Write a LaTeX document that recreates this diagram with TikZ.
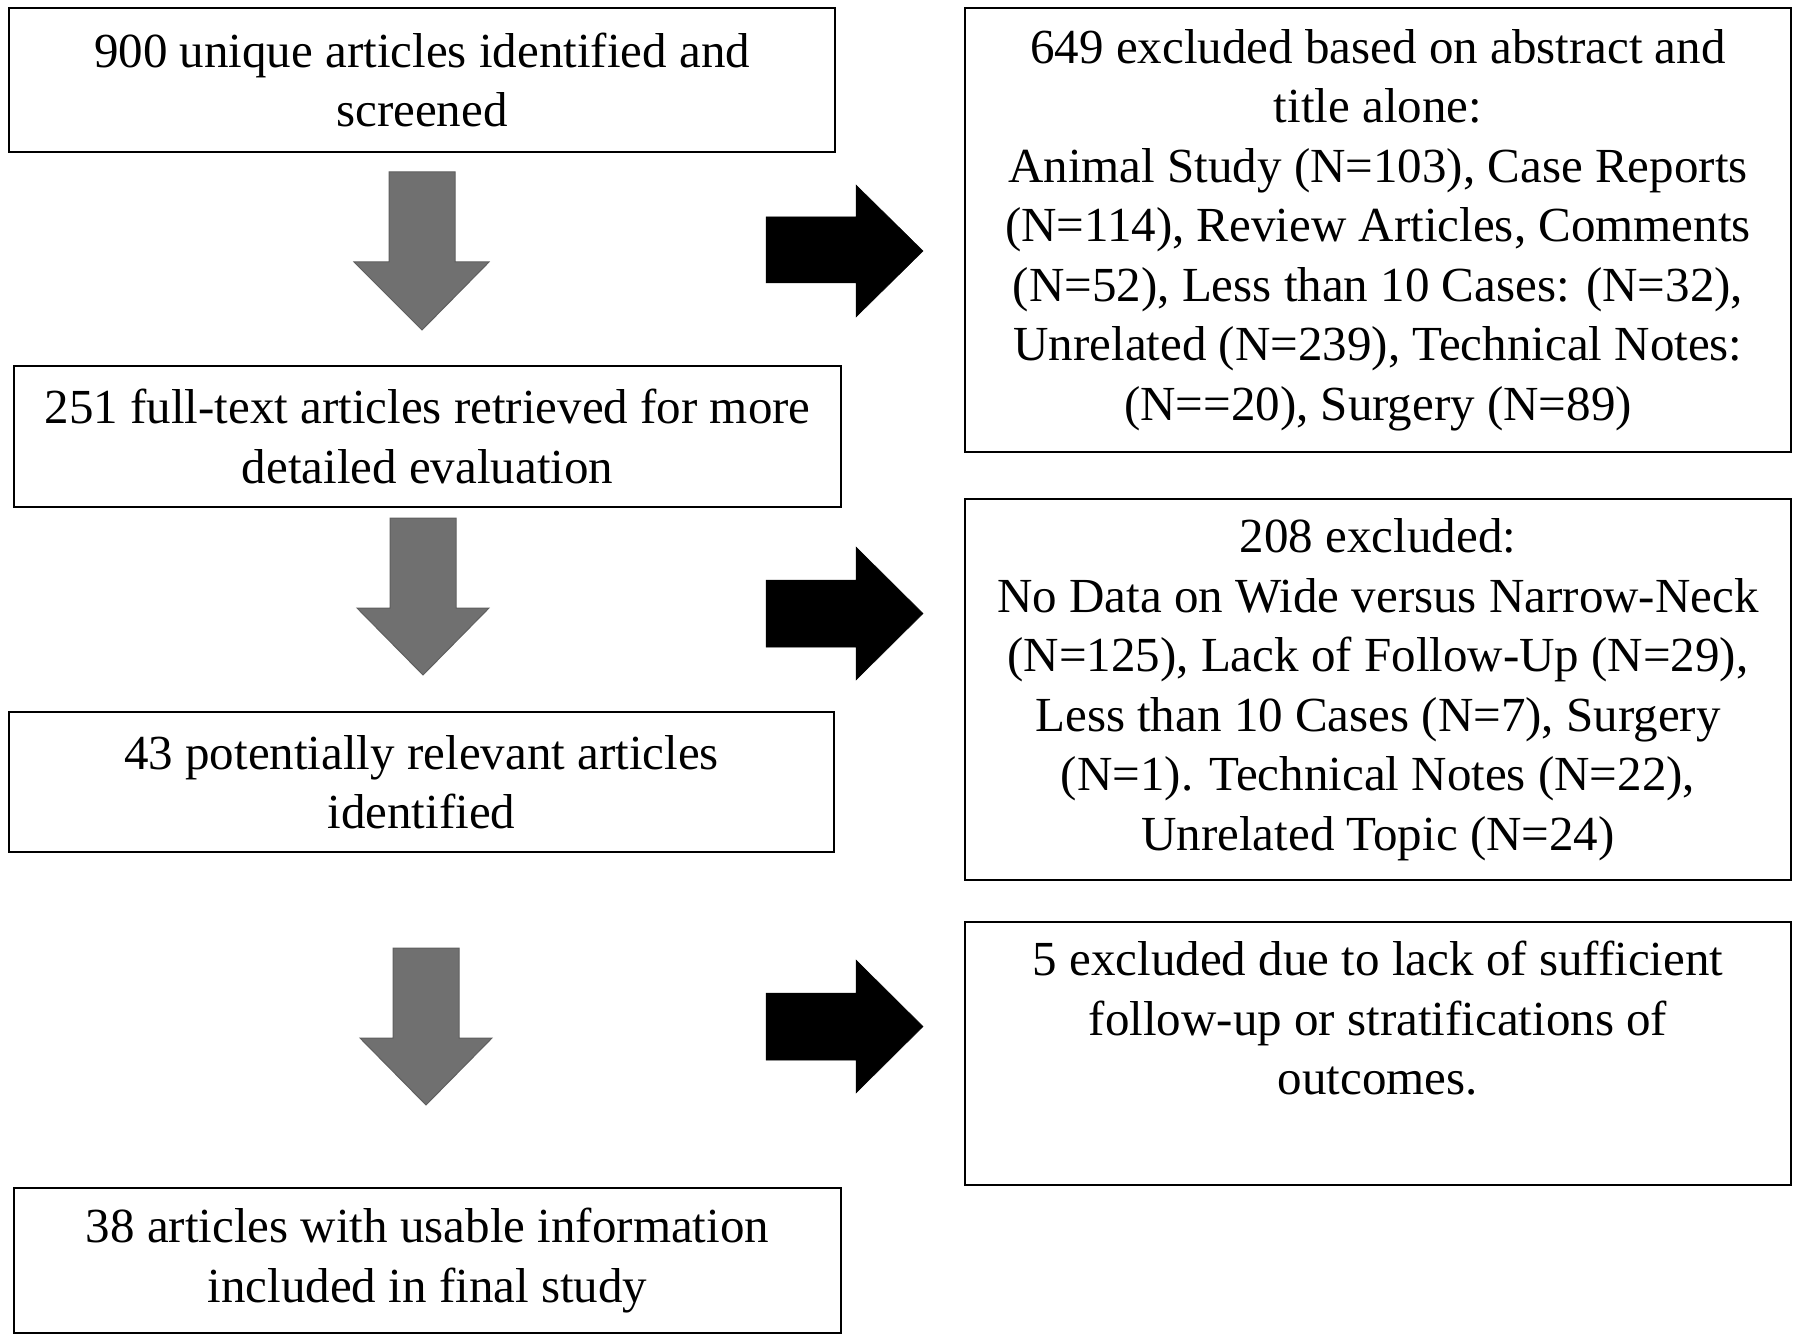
\documentclass[tikz,border=0pt]{standalone}
\usepackage{fontspec}
\setmainfont{Liberation Serif}
\definecolor{arrowgray}{RGB}{112,112,112}
\definecolor{arrowedge}{RGB}{95,95,95}
\begin{document}
\begin{tikzpicture}[x=1pt,y=-1pt,
  box/.style={draw=black, line width=2.2pt, rectangle, inner sep=0pt, fill=white},
  txt/.style={align=center, inner sep=0pt, font=\fontsize{49}{59.5}\selectfont},
  downarrow/.style={fill=arrowgray, draw=arrowedge, line width=1pt},
  rightarrow/.style={fill=black, draw=black, line width=0.5pt}]
\useasboundingbox[fill=white] (0,0) rectangle (1800,1343);

% left column boxes
\node[box, minimum width=826pt, minimum height=144pt] (b1) at (422,80) {};
\node[txt] (b1t) at (b1.center) {900 unique articles identified and\\screened};

\node[box, minimum width=827pt, minimum height=141pt] (b2) at (427.5,436.5) {};
\node[txt] (b2t) at (b2.center) {251 full-text articles retrieved for more\\detailed evaluation};

\node[box, minimum width=825pt, minimum height=140pt] (b3) at (421.5,782) {};
\node[txt] (b3t) at (b3.center) {43 potentially relevant articles\\identified};

\node[box, minimum width=827pt, minimum height=145pt] (b4) at (427.5,1260.5) {};
\node[txt] (b4t) at (b4.center) {38 articles with usable information\\included in final study};

% right column boxes
\node[box, minimum width=826pt, minimum height=444pt] (r1) at (1378,230) {};
\node[txt] (r1t) at (r1.center) {649 excluded based on abstract and\\title alone:\\Animal Study (N=103), Case Reports\\(N=114), Review Articles, Comments\\(N=52), Less than 10 Cases: (N=32),\\Unrelated (N=239), Technical Notes:\\(N==20), Surgery (N=89)};

\node[box, minimum width=826pt, minimum height=381pt] (r2) at (1378,689.5) {};
\node[txt] (r2t) at (r2.center) {208 excluded:\\No Data on Wide versus Narrow-Neck\\(N=125), Lack of Follow-Up (N=29),\\Less than 10 Cases (N=7), Surgery\\(N=1). Technical Notes (N=22),\\Unrelated Topic (N=24)};

\node[box, minimum width=826pt, minimum height=263pt] (r3) at (1378,1053.5) {};
\node[txt, anchor=north] (r3t) at ([yshift=-20pt]r3.north) {5 excluded due to lack of sufficient\\follow-up or stratifications of\\outcomes.};

% gray down arrows
\draw[downarrow] (389,172) -- (455,172) -- (455,262) -- (489,262) -- (422,330) -- (354,262) -- (389,262) -- cycle;
\draw[downarrow] (390,518) -- (456,518) -- (456,608) -- (489,608) -- (423,675) -- (357,608) -- (390,608) -- cycle;
\draw[downarrow] (393,948) -- (459,948) -- (459,1038) -- (492,1038) -- (426,1105) -- (360,1038) -- (393,1038) -- cycle;

% black right arrows
\draw[rightarrow] (766,217) -- (856,217) -- (856,185) -- (923,251) -- (856,317) -- (856,283) -- (766,283) -- cycle;
\draw[rightarrow] (766,580) -- (856,580) -- (856,547) -- (923,613.5) -- (856,680) -- (856,647) -- (766,647) -- cycle;
\draw[rightarrow] (766,993) -- (856,993) -- (856,960) -- (923,1026.5) -- (856,1093) -- (856,1060) -- (766,1060) -- cycle;
\end{tikzpicture}
\end{document}
